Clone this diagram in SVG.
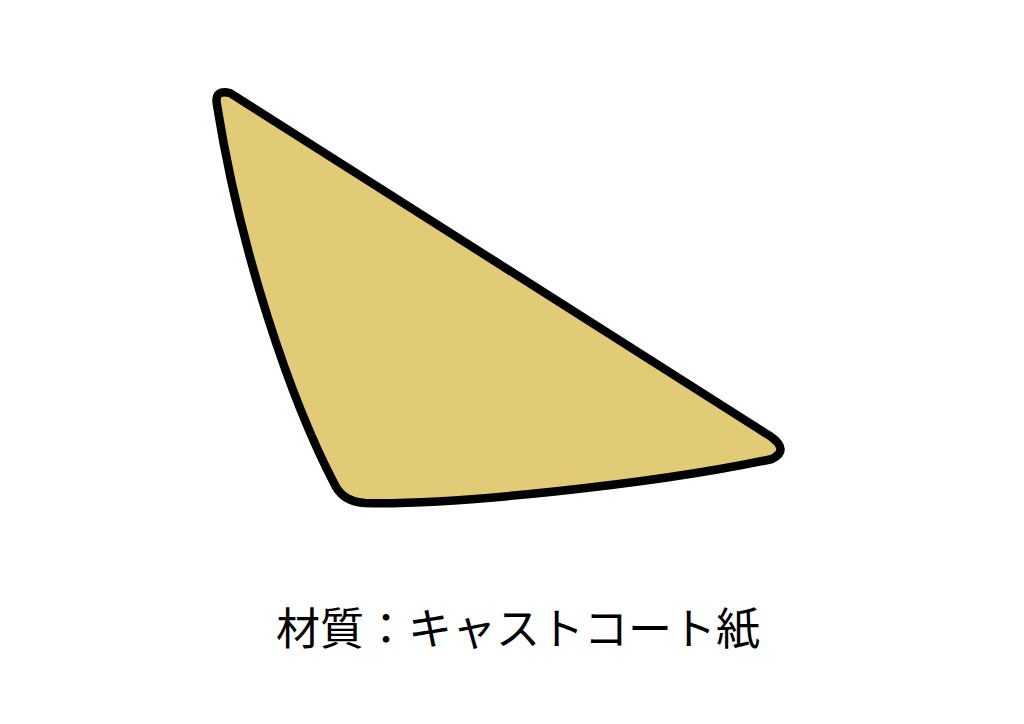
<svg xmlns="http://www.w3.org/2000/svg" width="1024" height="724" viewBox="0 0 1024 724">
<style>
.shape{fill:#E2CB77;stroke:#000;stroke-width:8.5;stroke-linejoin:round}
.label{font-family:"Noto Sans CJK JP","Noto Sans",sans-serif;font-size:44px;fill:#000}
</style>
<rect width="1024" height="724" fill="#fff"/>
<g id="shape">
<path class="shape" d="M 230 93 C 420 212 600 330 770 436 Q 790 450 772 459 C 650 485 450 505 365 503 Q 345 502 336 487 C 290 400 240 250 217 105 Q 214 89 230 93 Z"/>
</g>
<g id="caption">
<text class="label" x="518" y="645" text-anchor="middle">材質：キャストコート紙</text>
</g>
</svg>
